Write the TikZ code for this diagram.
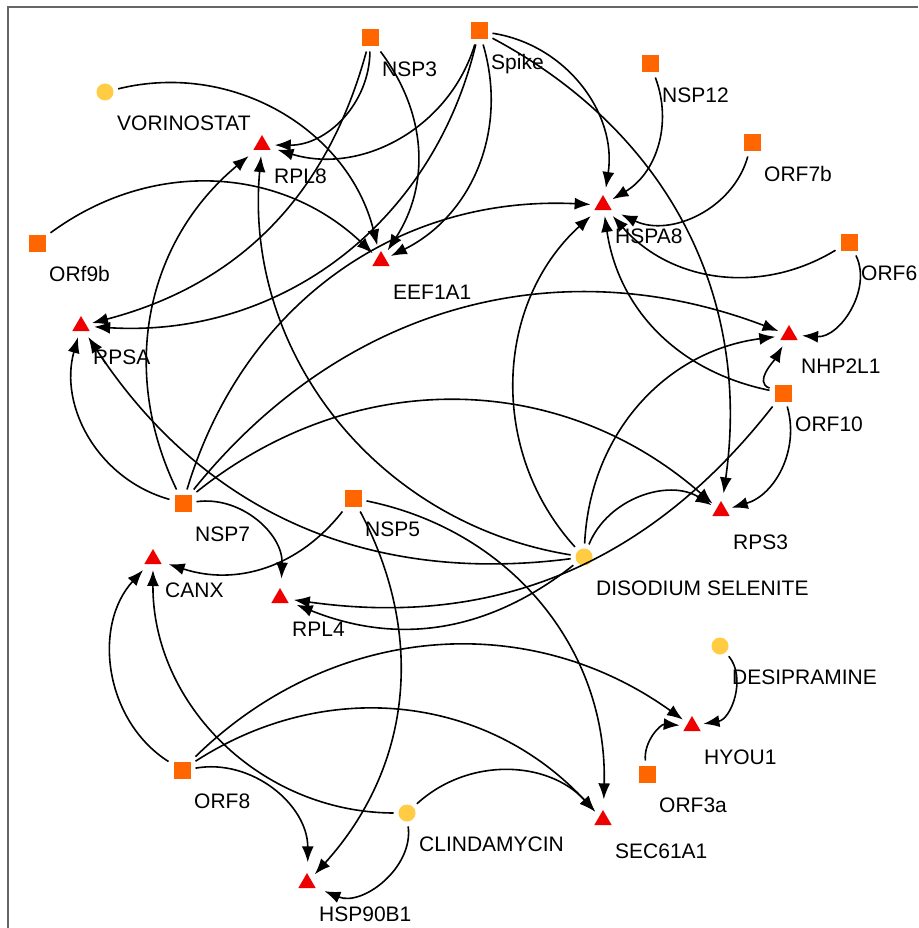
\documentclass[tikz,border=0pt]{standalone}
\usepackage{fontspec}
\setmainfont{Liberation Sans}
\usetikzlibrary{positioning,shapes.geometric,arrows.meta}
\definecolor{viralorange}{HTML}{FF6600}
\definecolor{drugyellow}{HTML}{FFCC44}
\definecolor{hostred}{HTML}{EE0000}

\begin{document}
\begin{tikzpicture}[x=1pt,y=-1pt]
        \tikzstyle{virus} = [rectangle, fill=viralorange, minimum size=17pt, inner sep=0pt, outer sep=5pt]
        \tikzstyle{drug} = [circle, fill=drugyellow, minimum size=17pt, inner sep=0pt, outer sep=5pt]
        \tikzstyle{host} = [regular polygon, regular polygon sides=3, fill=hostred, minimum size=20pt, inner sep=0pt, outer sep=6pt]
        \tikzstyle{lbl} = [inner sep=0pt, text height=15pt, text depth=0pt, font=\fontsize{21}{25}\selectfont]
        \tikzstyle{link} = [-{Latex[length=16pt,width=12pt]}, line width=1.6pt, black]
        \useasboundingbox (0,0) rectangle (918,928);
        \draw[line width=1.5pt, black!60] (8,928) -- (8,7) -- (918,7);
        % viral proteins
        \node[virus](nsp3) at (370,38) {};
        \node[virus](spike) at (479,31) {};
        \node[virus](nsp12) at (650,64) {};
        \node[virus](orf7b) at (752,143) {};
        \node[virus](orf9b) at (37,243) {};
        \node[virus](orf6) at (849,242) {};
        \node[virus](orf10) at (783,393) {};
        \node[virus](nsp7) at (183,503) {};
        \node[virus](nsp5) at (353,498) {};
        \node[virus](orf8) at (182,770) {};
        \node[virus](orf3a) at (647,774) {};
        % drugs
        \node[drug](vorinostat) at (105,92) {};
        \node[drug](selenite) at (584,557) {};
        \node[drug](desipramine) at (720,646) {};
        \node[drug](clindamycin) at (407,813) {};
        % host proteins
        \node[host](rpl8) at (262,145) {};
        \node[host](eef1a1) at (381,261) {};
        \node[host](hspa8) at (603,205) {};
        \node[host](rpsa) at (81,326) {};
        \node[host](nhp2l1) at (789,335) {};
        \node[host](rps3) at (721,511) {};
        \node[host](canx) at (153,559) {};
        \node[host](rpl4) at (280,598) {};
        \node[host](hyou1) at (692,726) {};
        \node[host](sec61a1) at (603,820) {};
        \node[host](hsp90b1) at (307,883) {};
        % labels
        \node[lbl, below right=23.5pt and 12pt of nsp3.center](nsp3-l){NSP3};
        \node[lbl, below right=23.5pt and 12pt of spike.center](spike-l){Spike};
        \node[lbl, below right=23.5pt and 12pt of nsp12.center](nsp12-l){NSP12};
        \node[lbl, below right=23.5pt and 12pt of orf7b.center](orf7b-l){ORF7b};
        \node[lbl, below right=23.5pt and 12pt of orf9b.center](orf9b-l){ORf9b};
        \node[lbl, below right=23.5pt and 12pt of orf6.center](orf6-l){ORF6};
        \node[lbl, below right=23.5pt and 12pt of orf10.center](orf10-l){ORF10};
        \node[lbl, below right=23.5pt and 12pt of nsp7.center](nsp7-l){NSP7};
        \node[lbl, below right=23.5pt and 12pt of nsp5.center](nsp5-l){NSP5};
        \node[lbl, below right=23.5pt and 12pt of orf8.center](orf8-l){ORF8};
        \node[lbl, below right=23.5pt and 12pt of orf3a.center](orf3a-l){ORF3a};
        \node[lbl, below right=23.5pt and 12pt of vorinostat.center](vorinostat-l){VORINOSTAT};
        \node[lbl, below right=23.5pt and 12pt of selenite.center](selenite-l){DISODIUM SELENITE};
        \node[lbl, below right=23.5pt and 12pt of desipramine.center](desipramine-l){DESIPRAMINE};
        \node[lbl, below right=23.5pt and 12pt of clindamycin.center](clindamycin-l){CLINDAMYCIN};
        \node[lbl, below right=23.5pt and 12pt of rpl8.center](rpl8-l){RPL8};
        \node[lbl, below right=23.5pt and 12pt of eef1a1.center](eef1a1-l){EEF1A1};
        \node[lbl, below right=23.5pt and 12pt of hspa8.center](hspa8-l){HSPA8};
        \node[lbl, below right=23.5pt and 12pt of rpsa.center](rpsa-l){RPSA};
        \node[lbl, below right=23.5pt and 12pt of nhp2l1.center](nhp2l1-l){NHP2L1};
        \node[lbl, below right=23.5pt and 12pt of rps3.center](rps3-l){RPS3};
        \node[lbl, below right=23.5pt and 12pt of canx.center](canx-l){CANX};
        \node[lbl, below right=23.5pt and 12pt of rpl4.center](rpl4-l){RPL4};
        \node[lbl, below right=23.5pt and 12pt of hyou1.center](hyou1-l){HYOU1};
        \node[lbl, below right=23.5pt and 12pt of sec61a1.center](sec61a1-l){SEC61A1};
        \node[lbl, below right=23.5pt and 12pt of hsp90b1.center](hsp90b1-l){HSP90B1};
        % interactions
        \draw[link] (vorinostat) to[bend left=45] (eef1a1);
        \draw[link] (orf9b) to[bend left=40] (eef1a1);
        \draw[link] (nsp3) to[bend left=45] (rpl8);
        \draw[link] (nsp3) to[bend left=35] (eef1a1);
        \draw[link] (nsp3) to[bend left=30] (rpsa);
        \draw[link] (spike) to[bend left=45] (rpl8);
        \draw[link] (spike) to[bend left=40] (rpsa);
        \draw[link] (spike) to[bend left=40] (eef1a1);
        \draw[link] (spike) to[bend left=45] (hspa8);
        \draw[link] (spike) to[bend left=35] (rps3);
        \draw[link] (nsp12) to[bend left=40] (hspa8);
        \draw[link] (orf7b) to[bend left=50] (hspa8);
        \draw[link] (orf6) to[bend left=40] (hspa8);
        \draw[link] (orf6) to[bend left=60] (nhp2l1);
        \draw[link] (orf10) to[bend left=35] (hspa8);
        \draw[link] (orf10) to[out=160,in=-120] (nhp2l1);
        \draw[link] (orf10) to[bend left=45] (rps3);
        \draw[link] (orf10) to[bend left=30] (rpl4);
        \draw[link] (selenite) to[bend left=50] (rps3);
        \draw[link] (selenite) to[bend left=40] (nhp2l1);
        \draw[link] (selenite) to[bend left=45] (hspa8);
        \draw[link] (selenite) to[bend left=43] (rpl8);
        \draw[link] (selenite) to[bend left=32] (rpsa);
        \draw[link] (selenite) to[bend left=30] (rpl4);
        \draw[link] (nsp7) to[bend left=45] (rpsa);
        \draw[link] (nsp7) to[bend left=38] (rpl8);
        \draw[link] (nsp7) to[bend left=38] (hspa8);
        \draw[link] (nsp7) to[bend left=36] (nhp2l1);
        \draw[link] (nsp7) to[bend left=40] (rps3);
        \draw[link] (nsp7) to[bend left=50] (rpl4);
        \draw[link] (nsp5) to[bend left=35] (canx);
        \draw[link] (nsp5) to[bend left=35] (hsp90b1);
        \draw[link] (nsp5) to[bend left=40] (sec61a1);
        \draw[link] (orf8) to[bend left=50] (canx);
        \draw[link] (orf8) to[bend left=40] (hyou1);
        \draw[link] (orf8) to[bend left=40] (sec61a1);
        \draw[link] (orf8) to[bend left=50] (hsp90b1);
        \draw[link] (clindamycin) to[bend left=45] (canx);
        \draw[link] (clindamycin) to[bend left=60] (hsp90b1);
        \draw[link] (clindamycin) to[bend left=45] (sec61a1);
        \draw[link] (desipramine) to[bend left=60] (hyou1);
        \draw[link] (orf3a) to[bend left=50] (hyou1);
\end{tikzpicture}
\end{document}
